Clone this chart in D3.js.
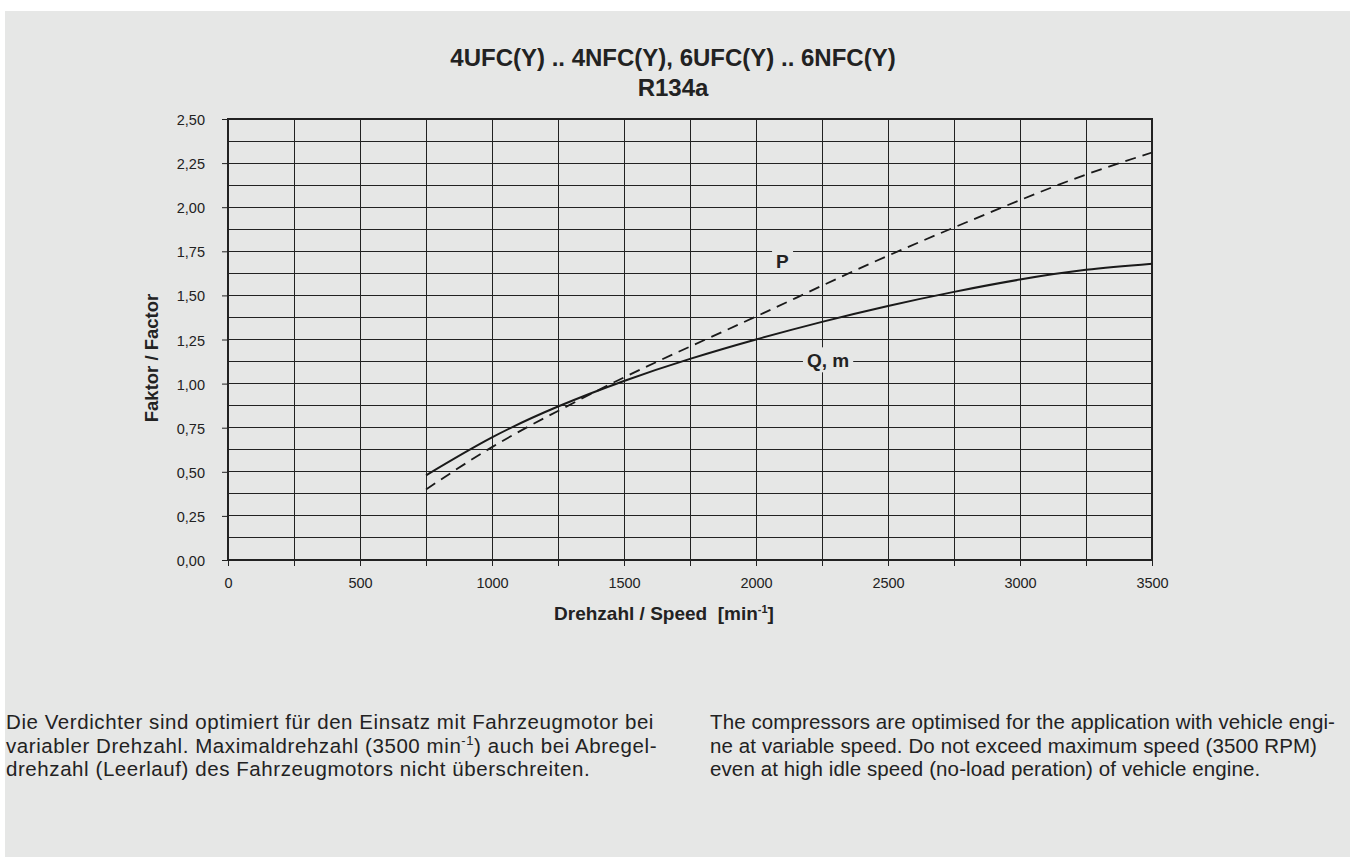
<!DOCTYPE html>
<html><head><meta charset="utf-8">
<script src="https://cdn.jsdelivr.net/npm/d3@7"></script>
<style>
body{margin:0;background:#fff;}
svg{display:block;font-family:"Liberation Sans",Arial,Helvetica,sans-serif;}
</style></head>
<body>
<svg id="c" width="1355" height="867"></svg>
<script>
// ---- data ----
const speeds = [750, 1000, 1250, 1500, 1750, 2000, 2250, 2500, 2750, 3000, 3250, 3500];
const qmValues = [0.48, 0.695, 0.87, 1.015, 1.14, 1.25, 1.35, 1.44, 1.52, 1.59, 1.645, 1.68];
const pValues  = [0.40, 0.64, 0.845, 1.035, 1.21, 1.38, 1.555, 1.725, 1.885, 2.04, 2.185, 2.31];
const xTicks = [0, 500, 1000, 1500, 2000, 2500, 3000, 3500];
const yTicks = [0, 0.25, 0.5, 0.75, 1.0, 1.25, 1.5, 1.75, 2.0, 2.25, 2.5];
const seriesNames = ["P", "Q, m"];
const titleLines = ["4UFC(Y) .. 4NFC(Y), 6UFC(Y) .. 6NFC(Y)", "R134a"];
const germanText = [
  "Die Verdichter sind optimiert für den Einsatz mit Fahrzeugmotor bei",
  "variabler Drehzahl. Maximaldrehzahl (3500 min|-1|) auch bei Abregel-",
  "drehzahl (Leerlauf) des Fahrzeugmotors nicht überschreiten."
];
const englishText = [
  "The compressors are optimised for the application with vehicle engi-",
  "ne at variable speed. Do not exceed maximum speed (3500 RPM)",
  "even at high idle speed (no-load peration) of vehicle engine."
];

// ---- layout ----
const svg = d3.select("#c");
const L = 228, R = 1152, T = 119, B = 560;
const x = d3.scaleLinear().domain([0, 3500]).range([L, R]);
const y = d3.scaleLinear().domain([0, 2.5]).range([B, T]);
const ink = "#222";
const bg = "#e6e7e6";

svg.append("rect").attr("x", 5).attr("y", 11).attr("width", 1345).attr("height", 846).attr("fill", bg);

// grid
const g = svg.append("g");
g.selectAll("line.v").data(d3.range(250, 3500, 250)).join("line")
  .attr("x1", d => x(d)).attr("x2", d => x(d)).attr("y1", T).attr("y2", B)
  .attr("stroke", ink).attr("stroke-width", 1).attr("shape-rendering", "crispEdges");
g.selectAll("line.h").data(d3.range(1, 20).map(i => i * 0.125)).join("line")
  .attr("x1", L).attr("x2", R).attr("y1", d => y(d)).attr("y2", d => y(d))
  .attr("stroke", ink).attr("stroke-width", 1).attr("shape-rendering", "crispEdges");

// axes
const xAxis = d3.axisBottom(x).tickValues(d3.range(0, 3501, 250)).tickSize(6)
  .tickFormat(d => xTicks.includes(d) ? String(d) : "");
const ax = svg.append("g").attr("transform", `translate(0,${B})`).call(xAxis);
ax.select(".domain").remove();
ax.selectAll(".tick line").attr("stroke", ink);
ax.selectAll(".tick text").attr("font-size", 14.5).attr("fill", "#222").attr("dy", 0).attr("y", 28)
  .attr("font-family", "Liberation Sans, Arial, sans-serif");

const yAxis = d3.axisLeft(y).tickValues(yTicks).tickSize(6)
  .tickFormat(d => d3.format(".2f")(d).replace(".", ","));
const ay = svg.append("g").attr("transform", `translate(${L},0)`).call(yAxis);
ay.select(".domain").remove();
ay.selectAll(".tick line").attr("stroke", ink);
ay.selectAll(".tick text").attr("font-size", 14.5).attr("fill", "#222").attr("x", -23).attr("dy", "0.38em")
  .attr("font-family", "Liberation Sans, Arial, sans-serif");

// frame
svg.append("rect").attr("x", L).attr("y", T).attr("width", R - L).attr("height", B - T)
  .attr("fill", "none").attr("stroke", ink).attr("stroke-width", 2);

// curves
const line = d3.line().x(d => x(d[0])).y(d => y(d[1])).curve(d3.curveNatural);
svg.append("path").datum(speeds.map((s, i) => [s, qmValues[i]])).attr("d", line)
  .attr("fill", "none").attr("stroke", "#1a1a1a").attr("stroke-width", 2);
svg.append("path").datum(speeds.map((s, i) => [s, pValues[i]])).attr("d", line)
  .attr("fill", "none").attr("stroke", "#1a1a1a").attr("stroke-width", 1.8).attr("stroke-dasharray", "11,7");

// series labels with background
const labelAnchors = [[2100, 1.696], [2273, 1.132]];
seriesNames.forEach((name, i) => {
  const cx = x(labelAnchors[i][0]), cy = y(labelAnchors[i][1]);
  const t = svg.append("text").attr("x", cx).attr("y", cy + 7).attr("text-anchor", "middle")
    .attr("font-size", 19).attr("font-weight", "bold").attr("fill", "#222").text(name);
  const bb = t.node().getBBox();
  svg.insert("rect", () => t.node()).attr("x", bb.x - 4).attr("y", bb.y - 3).attr("width", bb.width + 8)
    .attr("height", bb.height + 4).attr("fill", bg);
});

// title
titleLines.forEach((tl, i) => {
  svg.append("text").attr("x", 673).attr("y", 66 + i * 30).attr("text-anchor", "middle")
    .attr("font-size", 24).attr("font-weight", "bold").attr("fill", "#222").text(tl);
});

// axis titles
const xt = svg.append("text").attr("x", 664).attr("y", 620).attr("text-anchor", "middle")
  .attr("font-size", 19).attr("font-weight", "bold").attr("fill", "#222");
xt.append("tspan").text("Drehzahl / Speed \u00A0[min");
xt.append("tspan").attr("font-size", 11).attr("dy", -7).text("-1");
xt.append("tspan").attr("dy", 7).text("]");

svg.append("text").attr("transform", "translate(158,358) rotate(-90)").attr("text-anchor", "middle")
  .attr("font-size", 18.5).attr("font-weight", "bold").attr("fill", "#222").text("Faktor / Factor");

// notes
function para(lines, x0, y0, targetW) {
  const texts = lines.map((ln, i) => {
    const t = svg.append("text").attr("x", x0).attr("y", y0 + i * 23.5)
      .attr("font-size", 20.5).attr("fill", "#222");
    const parts = ln.split("|");
    parts.forEach((p, j) => {
      if (j % 2 === 1) t.append("tspan").attr("font-size", 13).attr("dy", -8).text(p);
      else t.append("tspan").attr("dy", j > 0 ? 8 : 0).text(p);
    });
    return t;
  });
  const w = texts[0].node().getComputedTextLength();
  const ls = (targetW - w) / lines[0].length;
  texts.forEach(t => t.attr("letter-spacing", ls));
}
para(germanText, 6, 729, 648);
para(englishText, 710, 729, 625);
</script>
</body></html>
